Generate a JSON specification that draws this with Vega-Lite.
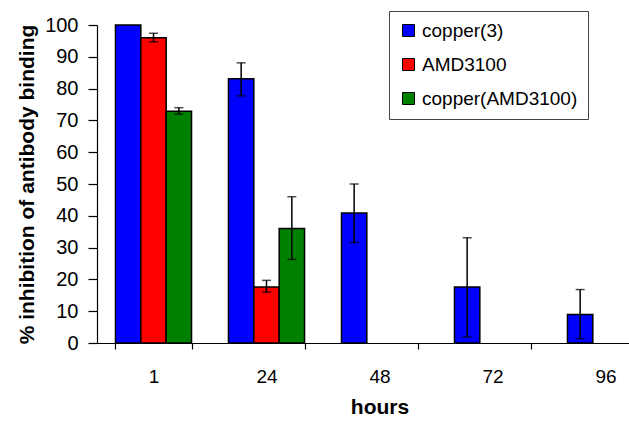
{
  "$schema": "https://vega.github.io/schema/vega-lite/v6.json",
  "autosize": {"type": "none"},
  "width": 532,
  "height": 318,
  "padding": {"left": 97, "top": 25, "right": 0, "bottom": 83},
  "background": "white",
  "config": {
    "view": {"stroke": null},
    "font": "Liberation Sans",
    "axis": {"grid": false, "domainColor": "black", "tickColor": "black", "labelColor": "black", "titleColor": "black", "labelFont": "Liberation Sans", "titleFont": "Liberation Sans"},
    "axisY": {"values": [0, 10, 20, 30, 40, 50, 60, 70, 80, 90, 100], "labelOverlap": false, "labelFontSize": 20, "tickSize": 9, "tickWidth": 1.2, "labelPadding": 10, "titleFontSize": 21, "titleFontWeight": "bold", "titlePadding": 7, "domainWidth": 1.2}
  },
  "data": {
    "values": [
      {"hours": "1", "series": "copper(3)", "value": 100, "lo": null, "hi": null},
      {"hours": "1", "series": "AMD3100", "value": 96.0, "lo": 94.7, "hi": 97.4},
      {"hours": "1", "series": "copper(AMD3100)", "value": 72.9, "lo": 72.0, "hi": 74.0},
      {"hours": "24", "series": "copper(3)", "value": 83.1, "lo": 77.7, "hi": 88.1},
      {"hours": "24", "series": "AMD3100", "value": 17.6, "lo": 16.0, "hi": 19.7},
      {"hours": "24", "series": "copper(AMD3100)", "value": 36.0, "lo": 26.3, "hi": 46.0},
      {"hours": "48", "series": "copper(3)", "value": 40.9, "lo": 31.6, "hi": 50.0},
      {"hours": "72", "series": "copper(3)", "value": 17.6, "lo": 1.9, "hi": 33.1},
      {"hours": "96", "series": "copper(3)", "value": 9.0, "lo": 1.4, "hi": 16.8}
    ]
  },
  "encoding": {
    "x": {
      "field": "hours", "type": "nominal", "sort": ["1", "24", "48", "72", "96"],
      "scale": {"range": [0, 565], "paddingInner": 0.327, "paddingOuter": 0.1635},
      "axis": {"title": "hours", "labelAngle": 0, "labelFontSize": 19, "tickSize": 6, "tickWidth": 1.2, "tickBand": "extent", "labelPadding": 18, "titleFontSize": 21, "titleFontWeight": "bold", "titlePadding": 10, "domainWidth": 1.2}
    },
    "xOffset": {
      "field": "series", "type": "nominal", "sort": ["copper(3)", "AMD3100", "copper(AMD3100)"],
      "scale": {"paddingInner": 0, "paddingOuter": 0}
    }
  },
  "layer": [
    {
      "mark": {"type": "bar", "stroke": "black", "strokeWidth": 1.5},
      "encoding": {
        "y": {
          "field": "value", "type": "quantitative",
          "scale": {"domain": [0, 100], "nice": false},
          "axis": {"title": "% inhibition of antibody binding"}
        },
        "color": {
          "field": "series", "type": "nominal",
          "scale": {"domain": ["copper(3)", "AMD3100", "copper(AMD3100)"], "range": ["#0000FF", "#FF0000", "#008000"]},
          "legend": {
            "title": null, "orient": "none", "legendX": 292, "legendY": -14, "direction": "vertical",
            "symbolType": "square", "symbolSize": 144, "symbolStrokeColor": "black", "symbolStrokeWidth": 1, "symbolOpacity": 1,
            "labelFontSize": 19, "labelFont": "Liberation Sans", "labelColor": "black", "labelOffset": 4,
            "rowPadding": 14, "padding": 10, "strokeColor": "#444", "fillColor": "white"
          }
        }
      }
    },
    {
      "mark": {"type": "rule", "color": "black", "strokeWidth": 1.5},
      "encoding": {
        "y": {"field": "lo", "type": "quantitative", "axis": {"title": "% inhibition of antibody binding"}},
        "y2": {"field": "hi"}
      }
    },
    {
      "mark": {"type": "tick", "color": "black", "size": 9, "thickness": 1.5, "orient": "horizontal"},
      "encoding": {"y": {"field": "lo", "type": "quantitative", "axis": {"title": "% inhibition of antibody binding"}}}
    },
    {
      "mark": {"type": "tick", "color": "black", "size": 9, "thickness": 1.5, "orient": "horizontal"},
      "encoding": {"y": {"field": "hi", "type": "quantitative", "axis": {"title": "% inhibition of antibody binding"}}}
    }
  ]
}
